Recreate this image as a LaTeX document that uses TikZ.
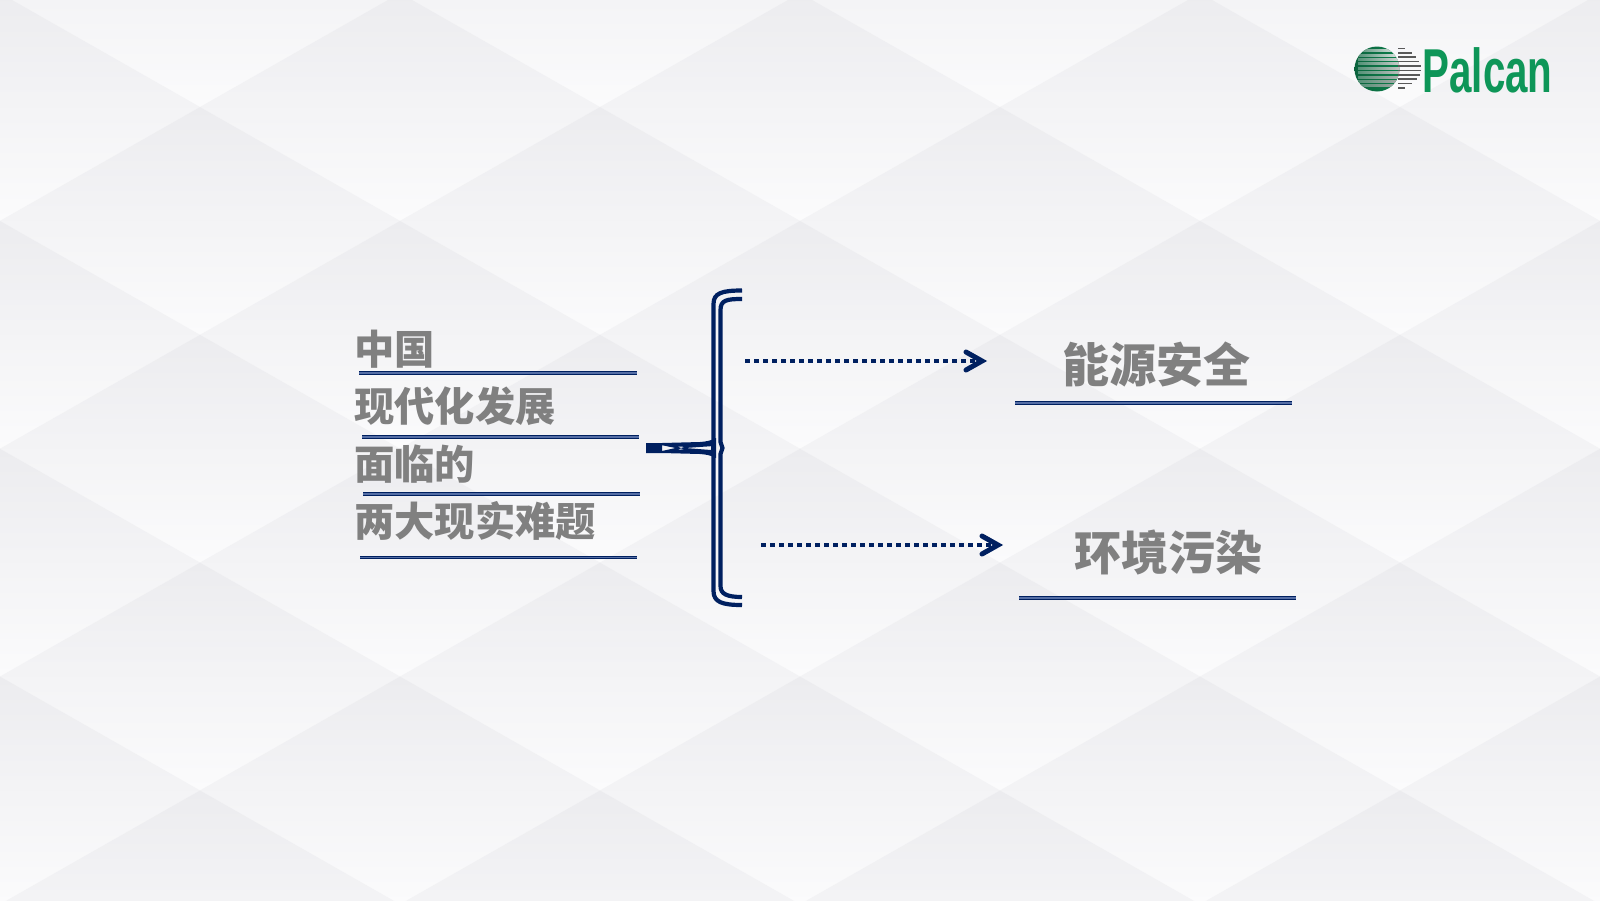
\documentclass[tikz,border=0pt]{standalone}
\usepackage{fontspec}
\usepackage{xcolor}
\usetikzlibrary{arrows.meta, positioning}
\newfontfamily\cjk{Noto Sans CJK SC}
\newfontfamily\logofont[FakeStretch=0.65]{Liberation Sans}
\definecolor{navyline}{RGB}{0,32,96}
\definecolor{midline}{RGB}{85,110,165}
\definecolor{titlegray}{RGB}{128,128,128}
\definecolor{logogreen}{RGB}{14,150,88}
\definecolor{balldark}{RGB}{12,100,62}
\definecolor{tiletop}{RGB}{236,236,239}
\definecolor{tilebottom}{RGB}{251,251,252}

\begin{document}
\begin{tikzpicture}[
    x=1pt, y=-1pt,
    title/.style={font=\cjk\bfseries\fontsize{40.3}{48}\selectfont, text=titlegray, anchor=west, inner sep=0pt},
    bigtitle/.style={font=\cjk\bfseries\fontsize{47}{55}\selectfont, text=titlegray, inner sep=0pt},
    rule/.style={draw=navyline, line width=1.3pt, double=midline, double distance=1.3pt},
    brace/.style={draw=navyline, line width=4.2pt},
    arrow/.style={draw=navyline, line width=4.8pt, dash pattern=on 5pt off 4pt},
    arrowhead/.style={draw=navyline, line width=5pt, line cap=round, line join=miter}
]
    \useasboundingbox (0,0) rectangle (1600,900);
    \fill[tilebottom] (0,0) rectangle (1600,900);

    % Background tiles
    \begin{scope}
        \clip (0,0) rectangle (1600,900);
        \foreach \row in {-1,...,8} {
            \pgfmathsetmacro{\cy}{107+113.9*\row}
            \pgfmathtruncatemacro{\odd}{mod(\row+8,2)}
            \foreach \col in {-1,...,9} {
                \pgfmathsetmacro{\cx}{400*\col+200*\odd}
                \shade[top color=tiletop, bottom color=tilebottom, shading angle=0]
                    (\cx,\cy-113.9) -- (\cx+200,\cy) -- (\cx,\cy+113.9) -- (\cx-200,\cy) -- cycle;
            }
        }
    \end{scope}

    % Left title
    \node[title] (china) at (354,349) {中国};
    \node[title] (modern) at (354,406) {现代化发展};
    \node[title] (facing) at (354,464) {面临的};
    \node[title] (problems) at (354,521) {两大现实难题};
    \draw[rule] (359,373) -- (637,373);
    \draw[rule] (362,437) -- (639,437);
    \draw[rule] (363,494) -- (640,494);
    \draw[rule] (360,557.5) -- (637,557.5);

    % Brace
    \draw[brace] (742,290.5) .. controls (722,290.5) and (713.5,293) .. (713.5,304) -- (713.5,444);
    \draw[brace] (742,605) .. controls (722,605) and (713.5,602) .. (713.5,591) -- (713.5,452);
    \draw[brace] (742,299) .. controls (727,299) and (720.5,300) .. (720.5,310) -- (720.5,442)
        -- (722.5,448) -- (720.5,454) -- (720.5,586) .. controls (720.5,594) and (727,597) .. (742,597);
    \fill[navyline, even odd rule] (646,443) -- (662,443) -- (700,442) .. controls (706,441.5) and (710,441) .. (716,438)
        -- (716,458) .. controls (710,455) and (706,454.5) .. (700,454) -- (662,453) -- (646,453) -- cycle
        (662,445.2) -- (675.5,448) -- (662,451) -- cycle
        (685,448) -- (711,446.2) -- (711,450) -- cycle
        (677.5,446.6) -- (685,446.8) -- (681,448) -- cycle
        (677.5,449.6) -- (685,449.4) -- (681,448.4) -- cycle;

    % Arrows
    \coordinate (energyfrom) at (745,361);
    \coordinate (energytip) at (983,361);
    \coordinate (pollutionfrom) at (761,545);
    \coordinate (pollutiontip) at (999,545);
    \draw[arrow] (energyfrom) -- (energytip);
    \draw[arrow] (pollutionfrom) -- (pollutiontip);
    \draw[arrowhead] (966,352) -- (982,361) -- (966,370);
    \draw[arrowhead] (982,536) -- (998,545) -- (982,554);

    % Right titles
    \node[bigtitle] (energy) at (1156,365) {能源安全};
    \node[bigtitle] (pollution) at (1168,552) {环境污染};
    \draw[rule] (1015,403) -- (1292,403);
    \draw[rule] (1019,598) -- (1296,598);

    % Logo
    \shade[left color=balldark, right color=logogreen!85!black] (1377,69) circle (22.5);
    \begin{scope}
        \clip (1377,69) circle (22.5);
        \foreach \y/\fade in {50.6/85,55/80,59.4/70,63.8/60,68.2/55,72.6/50,77/40,81.4/35,85.8/30} {
            \shade[left color=white!30!balldark, right color=white!\fade!gray] (1358,\y-1) rectangle (1400,\y+1);
        }
    \end{scope}
    \foreach \y/\xend in {48.4/1405,52.8/1412,57.2/1416,61.6/1419,66/1421,70.4/1421,74.8/1420,79.2/1417,83.6/1412,88/1405} {
        \draw[line width=1.7pt, gray!70!black] (1398,\y) -- (\xend,\y);
    }
    \node[font=\logofont\bfseries\fontsize{62}{62}\selectfont, text=logogreen, inner sep=0pt] (logo) at (1487.5,70) {Palcan};
\end{tikzpicture}
\end{document}
